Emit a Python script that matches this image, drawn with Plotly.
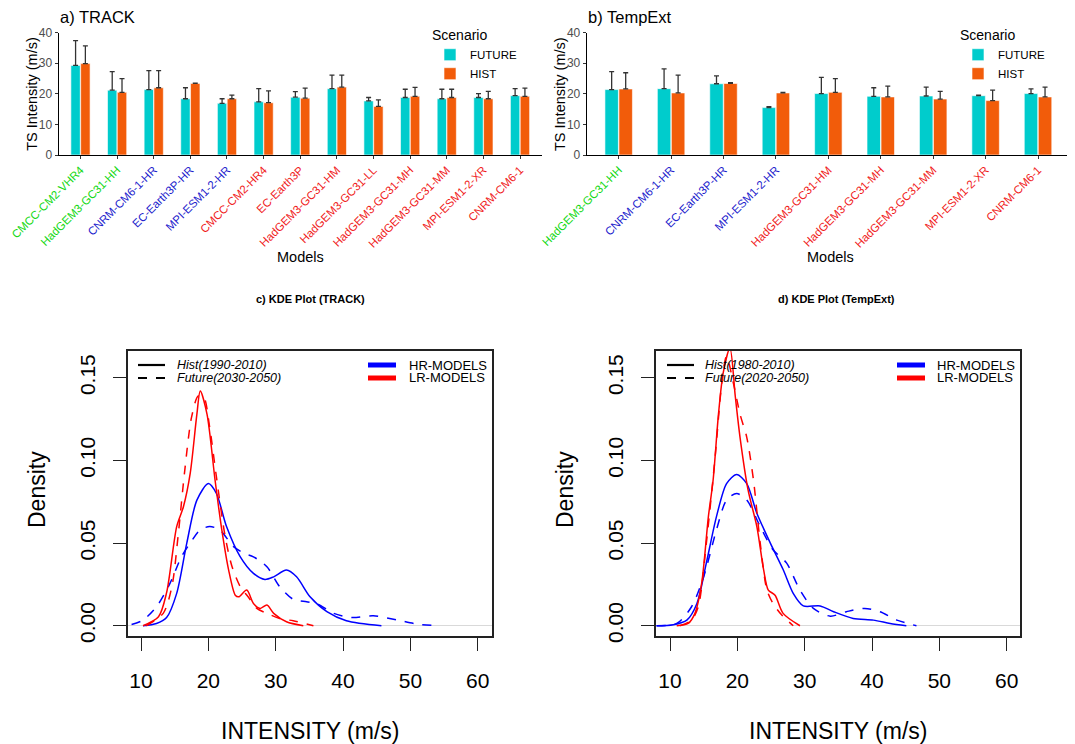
import plotly.graph_objects as go

# page body adds an 8px margin; the figure is sized so the picture maps onto 1075x744
OFF = 8
W, H = 1075 - OFF, 744 - OFF
FONT = "Liberation Sans, Arial, sans-serif"

# ---------------- data: bar panels ----------------
track_models = ["CMCC-CM2-VHR4", "HadGEM3-GC31-HH", "CNRM-CM6-1-HR", "EC-Earth3P-HR",
                "MPI-ESM1-2-HR", "CMCC-CM2-HR4", "EC-Earth3P", "HadGEM3-GC31-HM",
                "HadGEM3-GC31-LL", "HadGEM3-GC31-MH", "HadGEM3-GC31-MM", "MPI-ESM1-2-XR",
                "CNRM-CM6-1"]
track_res = ["VHR", "VHR", "HR", "HR", "HR", "LR", "LR", "LR", "LR", "LR", "LR", "LR", "LR"]
track_future = [29.3, 21.2, 21.4, 18.4, 16.9, 17.4, 18.9, 21.7, 17.7, 18.8, 18.4, 18.8, 19.4]
track_future_sd = [8.1, 6.1, 6.2, 3.6, 1.5, 4.3, 1.8, 4.4, 1.1, 2.7, 3.1, 1.3, 2.3]
track_hist = [29.9, 20.5, 22.0, 23.4, 18.4, 17.1, 18.6, 22.2, 15.9, 19.2, 18.8, 18.4, 19.2]
track_hist_sd = [5.8, 4.5, 5.6, 0.1, 1.2, 3.9, 3.3, 3.9, 2.1, 2.9, 2.7, 2.4, 2.7]

temp_models = ["HadGEM3-GC31-HH", "CNRM-CM6-1-HR", "EC-Earth3P-HR", "MPI-ESM1-2-HR",
               "HadGEM3-GC31-HM", "HadGEM3-GC31-MH", "HadGEM3-GC31-MM", "MPI-ESM1-2-XR",
               "CNRM-CM6-1"]
temp_res = ["VHR", "HR", "HR", "HR", "LR", "LR", "LR", "LR", "LR"]
temp_future = [21.4, 21.7, 23.3, 15.5, 20.1, 19.2, 19.3, 19.4, 20.1]
temp_future_sd = [5.9, 6.5, 2.6, 0.3, 5.3, 2.8, 2.9, 0.2, 1.5]
temp_hist = [21.6, 20.3, 23.4, 20.3, 20.5, 19.0, 18.3, 17.8, 19.0]
temp_hist_sd = [5.3, 5.8, 0.3, 0.2, 4.5, 3.5, 2.5, 3.4, 3.2]

bar_yticks = [0, 10, 20, 30, 40]

# ---------------- data: KDE panels ----------------
tr_hr_hist_x = [10.3, 12.3, 13.8, 15.3, 16.8, 18.3, 20.0, 21.2, 22.7, 24.7, 26.7, 28.4, 29.7, 31.6, 33.1, 35.1, 37.6, 40.5, 45.7]
tr_hr_hist_y = [0, 0.0014, 0.005, 0.0196, 0.05, 0.076, 0.086, 0.080, 0.060, 0.042, 0.0317, 0.028, 0.0296, 0.0337, 0.0296, 0.0175, 0.0085, 0.003, 0]
tr_hr_fut_x = [8.6, 10.3, 12.3, 14.3, 16.0, 17.3, 18.8, 20.2, 21.7, 23.7, 25.2, 26.7, 28.7, 30.6, 32.6, 34.6, 36.1, 38.6, 41.3, 44.5, 48.0, 51.0, 54.2]
tr_hr_fut_y = [0.0008, 0.0034, 0.0115, 0.0256, 0.0417, 0.050, 0.058, 0.060, 0.058, 0.048, 0.044, 0.0417, 0.0357, 0.0236, 0.016, 0.0145, 0.0135, 0.0075, 0.005, 0.006, 0.0035, 0.001, 0]
tr_lr_hist_x = [10.3, 12.6, 13.8, 15.3, 16.3, 17.3, 18.3, 18.8, 19.8, 21.0, 22.0, 23.0, 24.0, 24.5, 25.7, 26.7, 27.7, 28.7, 29.7, 31.6, 34.1]
tr_lr_hist_y = [0, 0.0054, 0.020, 0.060, 0.072, 0.092, 0.128, 0.142, 0.128, 0.088, 0.058, 0.034, 0.0185, 0.0175, 0.0216, 0.0135, 0.0105, 0.0125, 0.0075, 0.0024, 0]
tr_lr_fut_x = [10.8, 13.3, 14.6, 15.5, 16.5, 17.5, 18.5, 19.3, 20.2, 21.2, 22.5, 23.5, 24.7, 25.9, 27.2, 28.7, 30.6, 32.6, 35.6]
tr_lr_fut_y = [0, 0.0075, 0.024, 0.054, 0.094, 0.126, 0.139, 0.1385, 0.120, 0.090, 0.054, 0.036, 0.024, 0.0175, 0.0105, 0.0075, 0.0044, 0.003, 0]

te_hr_hist_x = [8.0, 10.5, 12.5, 14.0, 15.4, 16.9, 18.4, 19.9, 21.4, 22.9, 24.9, 26.8, 28.3, 29.8, 32.3, 34.3, 37.2, 40.2, 42.7, 45.1]
te_hr_hist_y = [0, 0.0006, 0.0034, 0.0135, 0.038, 0.066, 0.086, 0.0915, 0.086, 0.068, 0.050, 0.034, 0.0196, 0.012, 0.012, 0.0085, 0.0044, 0.0034, 0.0014, 0]
te_hr_fut_x = [8.0, 11.0, 13.2, 15.0, 16.9, 18.4, 19.9, 21.4, 23.4, 25.3, 27.3, 29.3, 31.3, 33.8, 36.2, 38.9, 41.2, 43.7, 46.6]
te_hr_fut_y = [0, 0.0014, 0.0115, 0.0296, 0.058, 0.076, 0.080, 0.076, 0.060, 0.046, 0.038, 0.0216, 0.0105, 0.0058, 0.0085, 0.0105, 0.0085, 0.0034, 0]
te_lr_hist_x = [11.0, 12.7, 13.7, 14.7, 15.7, 16.4, 17.2, 17.9, 18.9, 19.7, 20.4, 21.6, 22.9, 23.9, 24.6, 25.6, 26.8, 29.3]
te_lr_hist_y = [0, 0.0014, 0.0075, 0.0256, 0.066, 0.088, 0.128, 0.153, 0.168, 0.1385, 0.114, 0.082, 0.060, 0.034, 0.0216, 0.0185, 0.0075, 0]
te_lr_fut_x = [11.5, 13.2, 14.2, 15.4, 16.7, 17.7, 18.4, 19.4, 20.4, 21.4, 22.4, 23.4, 24.4, 25.3, 26.6, 28.3]
te_lr_fut_y = [0, 0.0034, 0.0115, 0.050, 0.102, 0.147, 0.163, 0.147, 0.128, 0.114, 0.088, 0.050, 0.0216, 0.0135, 0.0065, 0]

kde_xticks = [10, 20, 30, 40, 50, 60]
kde_yticks = [0, 0.05, 0.10, 0.15]
kde_ytext = ["0.00", "0.05", "0.10", "0.15"]

# ---------------- styling ----------------
COL_FUT = "#00CCCC"
COL_HIST = "#F25C0A"
RES_COL = {"VHR": "#12D812", "HR": "#2121CC", "LR": "#F01A1A"}
HR_COL = "#0000FF"
LR_COL = "#FF0000"


def px_x(x):
    return (x - OFF) / W


def px_y(y):
    return 1 - (y - OFF) / H


fig = go.Figure()


def add_bars(models, fut, fut_sd, hist, hist_sd, xa, ya, leg):
    fig.add_trace(go.Bar(
        x=models, y=fut, name="FUTURE", marker=dict(color=COL_FUT, line=dict(color="white", width=0.6)),
        error_y=dict(type="data", symmetric=False, array=fut_sd, arrayminus=[0] * len(fut),
                     color="#333333", thickness=1.3, width=2.5),
        xaxis=xa, yaxis=ya, legend=leg, showlegend=True))
    fig.add_trace(go.Bar(
        x=models, y=hist, name="HIST", marker=dict(color=COL_HIST, line=dict(color="white", width=0.6)),
        error_y=dict(type="data", symmetric=False, array=hist_sd, arrayminus=[0] * len(hist),
                     color="#333333", thickness=1.3, width=2.5),
        xaxis=xa, yaxis=ya, legend=leg, showlegend=True))


add_bars(track_models, track_future, track_future_sd, track_hist, track_hist_sd, "x", "y", "legend")
add_bars(temp_models, temp_future, temp_future_sd, temp_hist, temp_hist_sd, "x2", "y2", "legend2")


def add_kde(xa, ya, curves):
    for xs, ys, col, dash in curves:
        fig.add_trace(go.Scatter(x=xs, y=ys, mode="lines", showlegend=False,
                                 line=dict(color=col, width=1.5, dash=dash, shape="spline", smoothing=0.8),
                                 xaxis=xa, yaxis=ya, hoverinfo="skip"))


add_kde("x3", "y3", [
    (tr_hr_hist_x, tr_hr_hist_y, HR_COL, "solid"),
    (tr_hr_fut_x, tr_hr_fut_y, HR_COL, "dash"),
    (tr_lr_hist_x, tr_lr_hist_y, LR_COL, "solid"),
    (tr_lr_fut_x, tr_lr_fut_y, LR_COL, "dash"),
])
add_kde("x4", "y4", [
    (te_hr_hist_x, te_hr_hist_y, HR_COL, "solid"),
    (te_hr_fut_x, te_hr_fut_y, HR_COL, "dash"),
    (te_lr_hist_x, te_lr_hist_y, LR_COL, "solid"),
    (te_lr_fut_x, te_lr_fut_y, LR_COL, "dash"),
])


def cat_ticktext(models, res):
    return ['<span style="color:%s">%s</span>' % (RES_COL[r], m) for m, r in zip(models, res)]


bar_x_common = dict(showline=True, linecolor="black", linewidth=1, ticks="outside", ticklen=3,
                    tickcolor="#333333", tickangle=-45, showgrid=False, zeroline=False, automargin=False,
                    tickfont=dict(size=11.4, family=FONT))
bar_y_common = dict(range=[0, 40], tickvals=bar_yticks, showline=True, linecolor="black", linewidth=1,
                    ticks="outside", ticklen=3, tickcolor="#333333", showgrid=False, zeroline=False,
                    automargin=False, tickfont=dict(size=12, color="#4D4D4D", family=FONT))

kde_x_common = dict(showline=True, mirror=True, linecolor="#222222", linewidth=1.5, ticks="outside",
                    ticklen=13, tickwidth=1.2, tickcolor="#222222", tickvals=kde_xticks,
                    showgrid=False, zeroline=False, automargin=False,
                    tickfont=dict(size=21, color="black", family=FONT), ticklabelstandoff=12)
kde_y_common = dict(showline=True, mirror=True, linecolor="#222222", linewidth=1.5, ticks="outside",
                    ticklen=13, tickwidth=1.2, tickcolor="#222222", tickvals=kde_yticks, ticktext=kde_ytext,
                    tickangle=-90, range=[-0.0062, 0.1662], showgrid=False, automargin=False,
                    zeroline=True, zerolinecolor="#D9D9D9", zerolinewidth=1,
                    tickfont=dict(size=21, color="black", family=FONT), ticklabelstandoff=10)

fig.update_layout(
    width=W, height=H, margin=dict(l=0, r=0, t=0, b=0, autoexpand=False),
    paper_bgcolor="white", plot_bgcolor="white",
    font=dict(family=FONT, color="black"),
    barmode="group", bargap=0.465, bargroupgap=0.04,
    xaxis=dict(domain=[px_x(58.5), px_x(542)], range=[-0.6, 12.6], tickvals=track_models,
               ticktext=cat_ticktext(track_models, track_res), anchor="y", **bar_x_common),
    yaxis=dict(domain=[px_y(155), px_y(32.7)], anchor="x", **bar_y_common),
    xaxis2=dict(domain=[px_x(586.7), px_x(1070)], range=[-0.61, 8.61], tickvals=temp_models,
                ticktext=cat_ticktext(temp_models, temp_res), anchor="y2", **bar_x_common),
    yaxis2=dict(domain=[px_y(155), px_y(32.7)], anchor="x2", **bar_y_common),
    xaxis3=dict(domain=[px_x(128), px_x(492)], range=[8.07, 62.12], anchor="y3", **kde_x_common),
    yaxis3=dict(domain=[px_y(636), px_y(351)], anchor="x3", **kde_y_common),
    xaxis4=dict(domain=[px_x(656), px_x(1020)], range=[7.92, 61.98], anchor="y4", **kde_x_common),
    yaxis4=dict(domain=[px_y(636), px_y(351)], anchor="x4", **kde_y_common),
    legend=dict(x=px_x(430), y=px_y(22), xanchor="left", yanchor="top", bgcolor="rgba(0,0,0,0)",
                title=dict(text="Scenario", font=dict(size=14, family=FONT)),
                font=dict(size=11.5, family=FONT), tracegroupgap=0, itemwidth=30),
    legend2=dict(x=px_x(958), y=px_y(22), xanchor="left", yanchor="top", bgcolor="rgba(0,0,0,0)",
                 title=dict(text="Scenario", font=dict(size=14, family=FONT)),
                 font=dict(size=11.5, family=FONT), tracegroupgap=0, itemwidth=30),
)

ann = []


def text(x, y, s, size, angle=0, xanchor="center", bold=False, italic=False, color="black"):
    if bold:
        s = "<b>%s</b>" % s
    if italic:
        s = "<i>%s</i>" % s
    ann.append(dict(x=px_x(x), y=px_y(y), xref="paper", yref="paper", text=s, showarrow=False,
                    xanchor=xanchor, yanchor="middle", textangle=angle,
                    font=dict(size=size, family=FONT, color=color)))


# bar panel titles / axis titles
text(58, 17, "a) TRACK", 16.5, xanchor="left")
text(586, 17, "b) TempExt", 16.5, xanchor="left")
text(31.8, 94, "TS Intensity (m/s)", 14.5, angle=-90)
text(560, 94, "TS Intensity (m/s)", 14.5, angle=-90)
text(300, 257, "Models", 14.5)
text(830, 257, "Models", 14.5)

# KDE panel titles / axis titles
text(310, 299, "c) KDE Plot (TRACK)", 11, bold=True)
text(836, 299, "d) KDE Plot (TempExt)", 11, bold=True)
text(37, 490, "Density", 23, angle=-90)
text(565, 490, "Density", 23, angle=-90)
text(310, 731, "INTENSITY (m/s)", 23)
text(838, 731, "INTENSITY (m/s)", 23)

shapes = []


def seg(x0, x1, y, color, width, dash="solid"):
    shapes.append(dict(type="line", xref="paper", yref="paper", x0=px_x(x0), x1=px_x(x1),
                       y0=px_y(y), y1=px_y(y), line=dict(color=color, width=width, dash=dash)))


# KDE in-panel legends
for (lx, tx, hx, htx, period_h, period_f) in [
        (138, 175, 368, 407, "Hist(1990-2010)", "Future(2030-2050)"),
        (667, 703, 897, 935, "Hist(1980-2010)", "Future(2020-2050)")]:
    seg(lx, lx + 27, 365, "black", 2.2)
    seg(lx, lx + 27, 378, "black", 2.2, "dash")
    text(tx, 365, period_h, 12.5, xanchor="left", italic=True)
    text(tx, 378, period_f, 12.5, xanchor="left", italic=True)
    seg(hx, hx + 28, 365, HR_COL, 5)
    seg(hx, hx + 28, 378, LR_COL, 5)
    text(htx, 365, "HR-MODELS", 13, xanchor="left")
    text(htx, 378, "LR-MODELS", 13, xanchor="left")

fig.update_layout(annotations=ann, shapes=shapes)
fig.write_html("out.html")
